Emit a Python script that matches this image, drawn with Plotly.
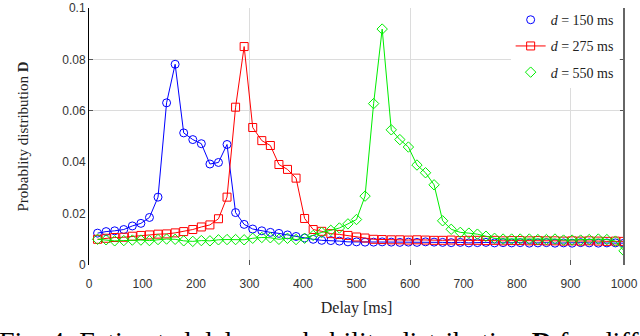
import plotly.graph_objects as go

# delay bins (ms), 62 bins of ~16.1 ms
delay_ms = [16, 32, 48, 65, 81, 97, 113, 129, 145, 161, 177, 194, 210, 226, 242, 258,
            274, 290, 306, 323, 339, 355, 371, 387, 403, 419, 435, 452, 468, 484, 500,
            516, 532, 548, 565, 581, 597, 613, 629, 645, 661, 677, 694, 710, 726, 742,
            758, 774, 790, 806, 823, 839, 855, 871, 887, 903, 919, 935, 952, 968, 984, 1000]

p_150 = [0.0124, 0.0130, 0.0133, 0.0138, 0.0152, 0.0162, 0.0185, 0.0264, 0.0631, 0.0781,
         0.0514, 0.0488, 0.0472, 0.0393, 0.0399, 0.0469, 0.0204, 0.0158, 0.0140, 0.0133,
         0.0127, 0.0123, 0.0117, 0.0111, 0.0105, 0.0100, 0.0096, 0.0095, 0.0093, 0.0090,
         0.0090, 0.0089, 0.0089, 0.0090, 0.0089, 0.0088, 0.0089, 0.0088, 0.0090, 0.0089,
         0.0088, 0.0087, 0.0088, 0.0086, 0.0087, 0.0088, 0.0086, 0.0087, 0.0086, 0.0087,
         0.0085, 0.0086, 0.0087, 0.0085, 0.0086, 0.0085, 0.0087, 0.0086, 0.0085, 0.0086,
         0.0086, 0.0085]

p_275 = [0.0100, 0.0104, 0.0107, 0.0108, 0.0112, 0.0115, 0.0117, 0.0120, 0.0121, 0.0125,
         0.0130, 0.0138, 0.0148, 0.0156, 0.0180, 0.0264, 0.0614, 0.0850, 0.0535, 0.0484,
         0.0465, 0.0391, 0.0372, 0.0338, 0.0181, 0.0138, 0.0131, 0.0122, 0.0119, 0.0115,
         0.0109, 0.0105, 0.0100, 0.0099, 0.0098, 0.0098, 0.0097, 0.0098, 0.0097, 0.0096,
         0.0096, 0.0097, 0.0095, 0.0096, 0.0096, 0.0095, 0.0096, 0.0094, 0.0095, 0.0095,
         0.0094, 0.0095, 0.0094, 0.0094, 0.0093, 0.0094, 0.0093, 0.0094, 0.0093, 0.0092,
         0.0093, 0.0092]

p_550 = [0.0100, 0.0098, 0.0094, 0.0095, 0.0097, 0.0097, 0.0095, 0.0099, 0.0101, 0.0100,
         0.0094, 0.0092, 0.0095, 0.0094, 0.0098, 0.0099, 0.0099, 0.0098, 0.0104, 0.0107,
         0.0106, 0.0100, 0.0104, 0.0099, 0.0104, 0.0115, 0.0127, 0.0135, 0.0144, 0.0160,
         0.0177, 0.0268, 0.0628, 0.0918, 0.0526, 0.0488, 0.0459, 0.0389, 0.0359, 0.0312,
         0.0172, 0.0139, 0.0127, 0.0124, 0.0120, 0.0112, 0.0104, 0.0101, 0.0101, 0.0101,
         0.0101, 0.0099, 0.0099, 0.0101, 0.0097, 0.0097, 0.0097, 0.0099, 0.0101, 0.0099,
         0.0093, 0.0055]

# name, values, colour, marker, legend sample mode
series = [
    ("<i>d</i> = 150 ms", p_150, "#0000ff", "circle-open", "markers"),
    ("<i>d</i> = 275 ms", p_275, "#ff0000", "square-open", "lines+markers"),
    ("<i>d</i> = 550 ms", p_550, "#00ee00", "diamond-open", "markers"),
]

SERIF = "Liberation Serif, Times New Roman, serif"
SANS = "Liberation Sans, Arial, sans-serif"

fig = go.Figure()
for i, (name, vals, color, sym, leg_mode) in enumerate(series):
    mk = dict(symbol=sym, size=8, color=color, line=dict(width=1, color=color))
    fig.add_trace(go.Scatter(
        x=delay_ms, y=vals, mode="lines+markers", name=name,
        line=dict(color=color, width=1), marker=mk, showlegend=False,
    ))
    # legend-only sample (matlab legend shows marker only for some entries)
    fig.add_trace(go.Scatter(
        x=[None], y=[None], mode=leg_mode, name=name, legendgroup=f"g{i}",
        line=dict(color=color, width=1), marker=mk,
    ))

fig.update_layout(
    width=640, height=336,
    margin=dict(l=89, r=16, t=4, b=71),
    plot_bgcolor="white", paper_bgcolor="white",
    showlegend=True,
    legend=dict(
        x=0.99, y=1.015, xanchor="right", yanchor="top",
        bgcolor="white", borderwidth=0,
        font=dict(family=SERIF, size=14, color="#222"),
        traceorder="grouped", tracegroupgap=5,
        itemwidth=30,
    ),
)

fig.update_xaxes(
    range=[0, 1000], tickmode="array", tickvals=list(range(0, 1001, 100)),
    ticks="", showgrid=False, showline=False, zeroline=False, mirror="ticks",
    automargin=False, ticklabeloverflow="allow",
    tickfont=dict(family=SANS, size=12, color="#333"),
    ticklabelstandoff=10,
    minor=dict(tickmode="array", tickvals=[300, 600, 900], ticks="inside", ticklen=5,
               tickcolor="#555", showgrid=True, gridcolor="#dcdcdc", gridwidth=1),
    title=dict(text="Delay [ms]", font=dict(family=SERIF, size=16, color="#222"), standoff=11),
)
fig.update_yaxes(
    range=[0, 0.1], tickmode="array", tickvals=[0, 0.02, 0.04, 0.06, 0.08, 0.1],
    ticktext=["0", "0.02", "0.04", "0.06", "0.08", "0.1"],
    ticks="", showgrid=False, showline=True, linecolor="black", linewidth=1,
    zeroline=False, mirror="ticks",
    automargin=False, ticklabeloverflow="allow",
    tickfont=dict(family=SANS, size=12, color="#333"),
    minor=dict(tickmode="array", tickvals=[0.06, 0.08], ticks="inside", ticklen=4,
               tickcolor="#555", showgrid=True, gridcolor="#dcdcdc", gridwidth=1),
    title=dict(text="Probablity distribution <b>D</b>",
               font=dict(family=SERIF, size=15, color="#222"), standoff=29),
)

# darker right-hand frame line
fig.add_shape(type="line", xref="paper", yref="paper", x0=1, x1=1, y0=0, y1=1,
              line=dict(color="#666", width=2), layer="above")

# caption of the figure, cut by the bottom edge
fig.add_annotation(
    xref="paper", yref="paper", x=-0.172, y=-0.228, xanchor="left", yanchor="top",
    text="Fig. 4: Estimated delay probability distribution <b>D</b> for different",
    showarrow=False, font=dict(family=SERIF, size=28, color="black"),
)

fig.write_html("out.html", config={"displayModeBar": False},
               post_script="document.body.style.margin='0';")
